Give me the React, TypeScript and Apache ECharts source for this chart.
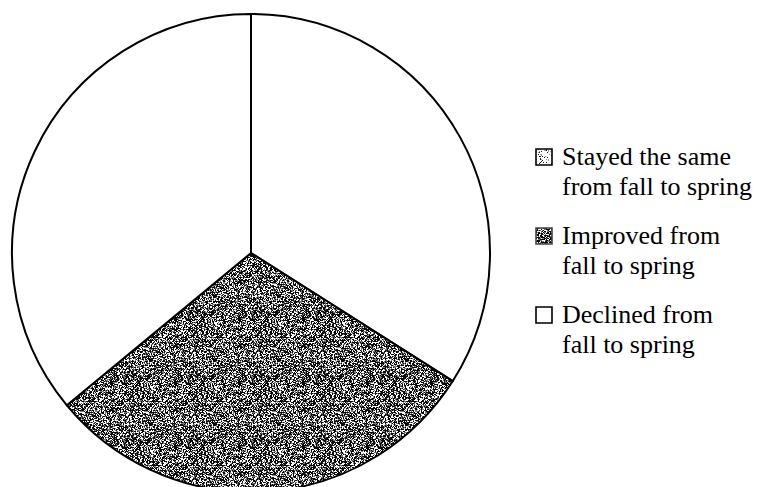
import React, { useEffect, useRef } from "react";
import * as echarts from "echarts";

const categories = [
  "Stayed the same\nfrom fall to spring",
  "Improved from\nfall to spring",
  "Declined from\nfall to spring",
];
const values = [34, 30, 36];

function hash(x: number, y: number): number {
  let h = (Math.imul(x, 374761393) + Math.imul(y, 668265263)) | 0;
  h = Math.imul(h ^ (h >>> 13), 1274126177);
  h ^= h >>> 16;
  return (h >>> 0) % 100;
}

function makeTile(size: number, dark: boolean): HTMLCanvasElement {
  const c = document.createElement("canvas");
  c.width = size;
  c.height = size;
  const ctx = c.getContext("2d")!;
  ctx.fillStyle = "#ffffff";
  ctx.fillRect(0, 0, size, size);
  for (let y = 0; y < size; y++) {
    for (let x = 0; x < size; x++) {
      const h = hash(x, y);
      let col: string | null = null;
      if (dark) {
        if (h < 47) col = "#0a0a0a";
        else if (h < 68) col = "#7a7a7a";
      } else {
        if (h < 8) col = "#222222";
        else if (h < 16) col = "#9a9a9a";
      }
      if (col) {
        ctx.fillStyle = col;
        ctx.fillRect(x, y, 1, 1);
      }
    }
  }
  return c;
}

export default function App() {
  const ref = useRef<HTMLDivElement>(null);
  useEffect(() => {
    document.body.style.margin = "0";
    const chart = echarts.init(ref.current!, null, { renderer: "svg" });
    const darkPat = { image: makeTile(64, true), repeat: "repeat" } as any;
    const lightPat = { image: makeTile(64, false), repeat: "repeat" } as any;
    const sliceFills = ["#ffffff", darkPat, "#ffffff"];
    const iconFills = [lightPat, darkPat, "#ffffff"];
    const iconStroke = ["#000000", "#444444", "#000000"];

    const legendEls: any[] = [];
    categories.forEach((name, i) => {
      const cy = 157 + 79 * i;
      legendEls.push({
        type: "rect",
        shape: { x: 536, y: cy - 8, width: 16, height: 16 },
        style: { fill: iconFills[i], stroke: iconStroke[i], lineWidth: 1.6 },
      });
      legendEls.push({
        type: "text",
        x: 562,
        y: cy - 15.8,
        style: {
          text: name,
          fill: "#000000",
          fontFamily: "Liberation Serif",
          fontSize: 26,
          lineHeight: 30,
          verticalAlign: "top",
          align: "left",
        },
      });
    });

    chart.setOption({
      animation: false,
      backgroundColor: "#ffffff",
      series: [
        {
          type: "pie",
          center: [251, 253],
          radius: [0, 239],
          startAngle: 90,
          clockwise: true,
          silent: true,
          label: { show: false },
          labelLine: { show: false },
          emphasis: { disabled: true },
          itemStyle: { borderColor: "#000000", borderWidth: 2 },
          data: categories.map((name, i) => ({
            name,
            value: values[i],
            itemStyle: { color: sliceFills[i] },
          })),
        },
      ],
      graphic: legendEls,
    });
    return () => chart.dispose();
  }, []);
  return <div ref={ref} style={{ width: 757, height: 487 }} />;
}
